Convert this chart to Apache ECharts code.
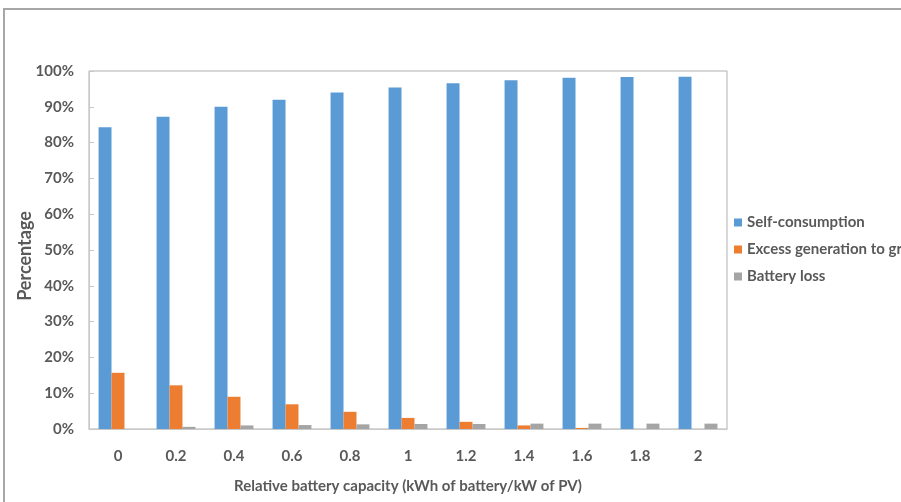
<!DOCTYPE html>
<html>
<head>
<meta charset="utf-8">
<script src="https://cdn.jsdelivr.net/npm/echarts@6/dist/echarts.min.js"></script>
<style>
  html, body { margin: 0; padding: 0; background: #fff; }
  #chart { width: 901px; height: 502px; }
</style>
</head>
<body>
<div id="chart"></div>
<script>
// relative battery capacity (kWh of battery / kW of PV)
const capacities = ['0', '0.2', '0.4', '0.6', '0.8', '1', '1.2', '1.4', '1.6', '1.8', '2'];
// percentages
const selfConsumption = [84.3, 87.2, 90.0, 92.0, 94.0, 95.4, 96.6, 97.4, 98.1, 98.3, 98.4];
const excessToGrid    = [15.7, 12.2, 9.0, 6.9, 4.8, 3.1, 2.0, 1.0, 0.3, 0, 0];
const batteryLoss     = [0, 0.6, 1.0, 1.1, 1.3, 1.4, 1.4, 1.5, 1.5, 1.5, 1.5];

const font = 'Lato, "Open Sans", sans-serif';
const textColor = '#595959';
const labelStyle = { fontFamily: font, fontSize: 15, fontWeight: 'bold', color: textColor };

let myChart = echarts.init(document.getElementById('chart'));
myChart.setOption({
    animation: false,
    textStyle: { fontFamily: font },
    graphic: [
        {
            type: 'rect',
            shape: { x: 4, y: 9, width: 920, height: 520 },
            style: { fill: 'none', stroke: '#a6a6a6', lineWidth: 2 }
        },
        // y axis title, placed by hand so it sits where the reference has it
        {
            type: 'text',
            x: 25,
            y: 256,
            rotation: Math.PI / 2,
            style: {
                text: 'Percentage',
                font: 'bold 18px ' + font,
                fill: textColor,
                align: 'center',
                verticalAlign: 'middle'
            }
        }
    ],
    legend: {
        orient: 'vertical',
        left: 729,
        top: 210,
        icon: 'rect',
        itemWidth: 8,
        itemHeight: 8,
        itemGap: 12,
        textStyle: labelStyle,
        data: ['Self-consumption', 'Excess generation to grid', 'Battery loss']
    },
    grid: {
        left: 89,
        top: 71,
        width: 638,
        height: 358,
        show: true,
        borderColor: '#b0b0b0',
        borderWidth: 1
    },
    xAxis: {
        type: 'category',
        data: capacities,
        name: 'Relative battery capacity (kWh of battery/kW of PV)',
        nameLocation: 'middle',
        nameGap: 50,
        nameTextStyle: labelStyle,
        axisLine: { lineStyle: { color: '#c8c8c8', width: 1 } },
        axisTick: { inside: true, length: 5, lineStyle: { color: '#c8c8c8' } },
        axisLabel: Object.assign({ margin: 20 }, labelStyle)
    },
    yAxis: {
        type: 'value',
        min: 0,
        max: 100,
        interval: 10,
        splitLine: { show: false },
        axisLine: { show: true, lineStyle: { color: '#c8c8c8', width: 1 } },
        axisTick: { show: true, inside: true, length: 5, lineStyle: { color: '#c8c8c8' } },
        axisLabel: Object.assign({ margin: 15, formatter: '{value}%' }, labelStyle)
    },
    series: [
        {
            name: 'Self-consumption',
            type: 'bar',
            data: selfConsumption,
            barGap: '0%',
            barCategoryGap: '33%',
            itemStyle: { color: '#5b9bd5' }
        },
        {
            name: 'Excess generation to grid',
            type: 'bar',
            data: excessToGrid,
            barGap: '0%',
            barCategoryGap: '33%',
            itemStyle: { color: '#ed7d31' }
        },
        {
            name: 'Battery loss',
            type: 'bar',
            data: batteryLoss,
            barGap: '0%',
            barCategoryGap: '33%',
            itemStyle: { color: '#a5a5a5' }
        }
    ]
});
</script>
</body>
</html>
